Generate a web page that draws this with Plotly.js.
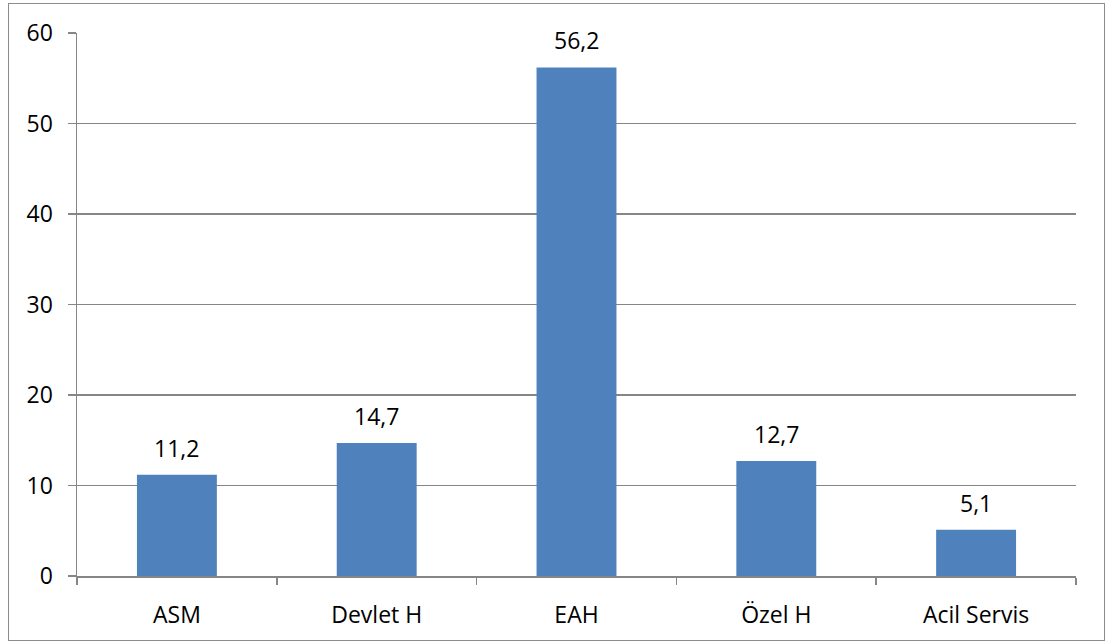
<!DOCTYPE html>
<html>
<head>
<meta charset="utf-8">
<script src="https://cdn.plot.ly/plotly-3.0.1.min.js"></script>
<style>
  html, body { margin: 0; padding: 0; background: #fff; }
  #chart { width: 1105px; height: 641px; }
  #frame { position: absolute; left: 8px; top: 3px; width: 1095px; height: 636px; border: 1.5px solid #8c8c8c; pointer-events: none; }
</style>
</head>
<body>
<div id="chart"></div>
<div id="frame"></div>
<script>
const categories = ["ASM", "Devlet H", "EAH", "Özel H", "Acil Servis"];
const values = [11.2, 14.7, 56.2, 12.7, 5.1];
const yTicks = [0, 10, 20, 30, 40, 50, 60];

const FONT = "Open Sans, Noto Sans, sans-serif";
const FS = 23;

const trace = {
  type: "bar",
  x: categories,
  y: values,
  width: 0.4,
  marker: { color: "#4F81BD", line: { width: 0 } },
  textposition: "none",
  hoverinfo: "skip"
};

const annotations = categories.map((c, i) => ({
  x: c, y: values[i], xref: "x", yref: "y",
  text: values[i].toFixed(1).replace(".", ","),
  showarrow: false, yanchor: "bottom", yshift: 9,
  font: { family: FONT, size: FS, color: "#000" }
}));

const layout = {
  width: 1105, height: 641,
  margin: { l: 77, r: 29, t: 33, b: 65 },
  paper_bgcolor: "#fff", plot_bgcolor: "#fff",
  showlegend: false,
  separators: ",.",
  font: { family: FONT, size: FS, color: "#000" },
  xaxis: {
    type: "category",
    tickson: "boundaries",
    ticks: "outside", ticklen: 7, tickcolor: "#868686", tickwidth: 1.5,
    showline: true, linecolor: "#868686", linewidth: 1.5,
    showgrid: false,
    ticklabelstandoff: 18,
    tickfont: { family: FONT, size: FS, color: "#000" },
    fixedrange: true
  },
  yaxis: {
    range: [0, 60],
    tickvals: yTicks,
    ticktext: yTicks.map(String),
    ticks: "outside", ticklen: 8, tickcolor: "#868686", tickwidth: 1.5,
    showline: true, linecolor: "#868686", linewidth: 1.5,
    showgrid: true, gridcolor: "#868686", gridwidth: 1.5,
    zeroline: false,
    ticklabelstandoff: 10,
    tickfont: { family: FONT, size: FS, color: "#000" },
    fixedrange: true
  },
  annotations: annotations
};

Plotly.newPlot("chart", [trace], layout, { displayModeBar: false, staticPlot: true });
</script>
</body>
</html>
